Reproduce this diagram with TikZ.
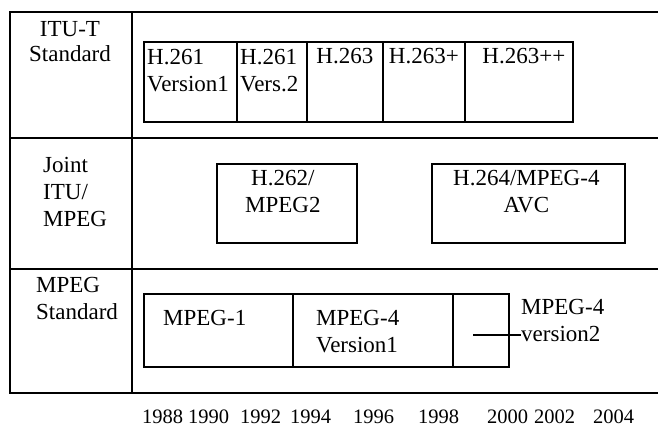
\documentclass[tikz,border=0pt]{standalone}
\usepackage{fontspec}
\setmainfont{Liberation Serif}
\usetikzlibrary{positioning}
\tikzset{
grid/.style={line width=1.8pt,black},
cell/.style={draw=black,line width=1.7pt,inner sep=0pt,anchor=north west},
lbl/.style={font=\fontsize{23}{27}\selectfont,inner sep=0pt,align=left},
clbl/.style={font=\fontsize{23}{27}\selectfont,inner sep=0pt,align=center},
yr/.style={font=\fontsize{20.5}{24}\selectfont,inner sep=0pt,anchor=base west},
pointer/.style={line width=1.5pt,black}
}
\begin{document}
\begin{tikzpicture}[x=1pt,y=-1pt]
\useasboundingbox (0,0) rectangle (658,426);
% table lines
\draw[grid] (658,12) -- (10,12) -- (10,393) -- (658,393);
\draw[grid] (132,12) -- (132,393);
\draw[grid] (10,138) -- (658,138);
\draw[grid] (10,269) -- (658,269);
% row labels
\node[clbl,anchor=north,font=\fontsize{23}{25.5}\selectfont] (itu) at (70,21) {ITU-T\\Standard};
\node[lbl,anchor=north west] (joint) at (43,157) {Joint\\ITU/\\MPEG};
\node[lbl,anchor=north west] (mpeg) at (36,277) {MPEG\\Standard};
% ITU-T boxes
\node[cell,minimum width=93,minimum height=80] (h261a) at (143,41) {};
\node[cell,minimum width=70,minimum height=80] (h261b) at (236,41) {};
\node[cell,minimum width=76,minimum height=80] (h263) at (306,41) {};
\node[cell,minimum width=82,minimum height=80] (h263p) at (382,41) {};
\node[cell,minimum width=108,minimum height=80] (h263pp) at (464,41) {};
\node[lbl,anchor=north west,below right=8pt and 4pt of h261a.north west] (t261a) {H.261\\Version1};
\node[lbl,anchor=north west,below right=8pt and 4pt of h261b.north west] (t261b) {H.261\\Vers.2};
\node[clbl,below=7.5pt of h263.north] (t263) {H.263};
\node[clbl,below=7.5pt of h263p.north] (t263p) {H.263+};
\node[clbl,below=7.5pt of h263pp.north,xshift=5pt] (t263pp) {H.263++};
% joint boxes
\node[cell,minimum width=140,minimum height=79] (h262) at (216,163) {};
\node[cell,minimum width=193,minimum height=79] (h264) at (431,163) {};
\node[clbl,below=7pt of h262.north,xshift=-4pt] (t262) {H.262/\\MPEG2};
\node[clbl,below=7pt of h264.north,xshift=-2pt] (t264) {H.264/MPEG-4\\AVC};
% MPEG boxes
\node[cell,minimum width=149,minimum height=73] (mp1) at (143,293) {};
\node[cell,minimum width=160,minimum height=73] (mp4a) at (292,293) {};
\node[cell,minimum width=56,minimum height=73] (mp4b) at (452,293) {};
\node[lbl,below right=17pt and 20pt of mp1.north west] (tmp1) {MPEG-1};
\node[lbl,below right=17pt and 24pt of mp4a.north west] (tmp4a) {MPEG-4\\Version1};
\node[lbl,anchor=north west] (tmp4b) at (521,299) {MPEG-4\\version2};
\coordinate (v2pt) at (473,335);
\draw[pointer] (v2pt) -- (v2pt -| tmp4b.west);
% years
\foreach \yr/\x in {1988/142,1990/188,1992/240,1994/290,1996/353,1998/418,2000/487,2002/534,2004/593}
  \node[yr] (y\yr) at (\x,423) {\yr};
\end{tikzpicture}
\end{document}
